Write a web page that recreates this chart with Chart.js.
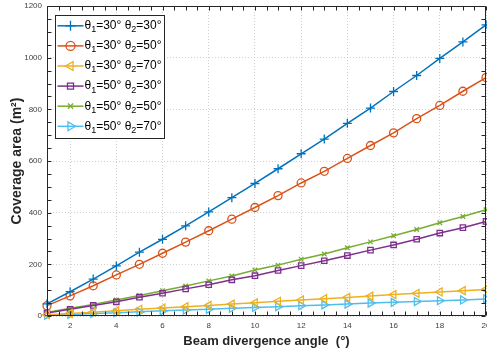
<!DOCTYPE html>
<html>
<head>
<meta charset="utf-8">
<script src="https://cdn.jsdelivr.net/npm/chart.js@4/dist/chart.umd.min.js"></script>
<style>
html,body{margin:0;padding:0;background:#fff;}
#wrap{width:487px;height:354px;position:relative;}
</style>
</head>
<body>
<div id="wrap"><canvas id="c" width="487" height="354"></canvas></div>
<script>
// ---- data ----
const angles = [1,2,3,4,5,6,7,8,9,10,11,12,13,14,15,16,17,18,19,20];
const s30_30 = [47,94,143,194,247,297,349,403,458,513,570,628,685,746,805,869,931,997,1061,1127];
const s30_50 = [40,78,117,159,200,243,286,330,375,420,466,515,560,610,660,709,764,815,870,923];
const s30_70 = [5,10,15,20,26,31,36,41,46,51,57,62,67,72,77,83,88,93,98,103];
const s50_30 = [12,26,41,55,73,88,105,121,140,156,176,195,214,234,255,275,297,321,342,366];
const s50_50 = [14,30,45,62,79,98,116,136,155,178,197,220,240,264,287,311,335,361,385,411];
const s50_70 = [3,6,10,13,16,20,23,26,30,33,36,40,43,46,50,53,56,59,62,66];
const seriesLabels = ['θ₁=30° θ₂=30°','θ₁=30° θ₂=50°','θ₁=30° θ₂=70°','θ₁=50° θ₂=30°','θ₁=50° θ₂=50°','θ₁=50° θ₂=70°'];
const xTickValues = [2,4,6,8,10,12,14,16,18,20];
const yTickValues = [0,200,400,600,800,1000,1200];
const xTitle = 'Beam divergence angle  (°)';
const yTitle = 'Coverage area (m²)';

const colors = ['#0072BD','#D95319','#EDB120','#7E2F8E','#77AC30','#4DBEEE'];
const styles = [
  {pointStyle:'cross', rotation:0, radius:4.5},
  {pointStyle:'circle', rotation:0, radius:4},
  {pointStyle:'triangle', rotation:-90, radius:4.6},
  {pointStyle:'rect', rotation:0, radius:3.8},
  {pointStyle:'crossRot', rotation:0, radius:3.2},
  {pointStyle:'triangle', rotation:90, radius:4.6}
];
const allSeries = [s30_30,s30_50,s30_70,s50_30,s50_50,s50_70];

const datasets = allSeries.map((s,i)=>({
  label: seriesLabels[i],
  data: s.map((v,k)=>({x:angles[k], y:v})),
  borderColor: colors[i],
  backgroundColor: 'rgba(0,0,0,0)',
  borderWidth: 1.5,
  pointStyle: styles[i].pointStyle,
  pointRotation: styles[i].rotation,
  pointRadius: styles[i].radius,
  pointBorderWidth: 1.3,
  pointBorderColor: colors[i],
  pointBackgroundColor: 'rgba(0,0,0,0)',
  tension: 0,
  clip: false
}));

const axisColor = '#262626';

const framePlugin = {
  id: 'frame',
  afterDatasetsDraw(chart){
    const {ctx, chartArea:a, scales:{x,y}} = chart;
    ctx.save();
    ctx.strokeStyle = axisColor;
    ctx.lineWidth = 1;
    const L = Math.round(a.left)+0.5, R = Math.round(a.right)-0.5, T = Math.round(a.top)+0.5, B = Math.round(a.bottom)-0.5;
    ctx.beginPath();
    ctx.rect(L, T, R-L, B-T);
    ctx.stroke();
    const tl = 4;
    ctx.beginPath();
    for (let v = x.min; v <= x.max + 1e-9; v += 0.5){
      const px = Math.round(x.getPixelForValue(v))+0.5;
      ctx.moveTo(px, B); ctx.lineTo(px, B - tl);
      ctx.moveTo(px, T); ctx.lineTo(px, T + tl);
    }
    for (let v = y.min; v <= y.max + 1e-9; v += 50){
      const py = Math.round(y.getPixelForValue(v))+0.5;
      ctx.moveTo(L, py); ctx.lineTo(L + tl, py);
      ctx.moveTo(R, py); ctx.lineTo(R - tl, py);
    }
    ctx.stroke();
    ctx.restore();
  }
};

function drawRich(ctx, text, x, y){
  const subMap = {'₁':'1','₂':'2'};
  let cx = x;
  for (const ch of text){
    if (subMap[ch]){
      ctx.font = '9px "Liberation Sans", Arial, sans-serif';
      ctx.fillText(subMap[ch], cx, y + 4);
      cx += ctx.measureText(subMap[ch]).width;
    } else {
      ctx.font = '12px "Liberation Sans", Arial, sans-serif';
      ctx.fillText(ch, cx, y);
      cx += ctx.measureText(ch).width;
    }
  }
}

const legendPlugin = {
  id: 'boxLegend',
  afterDraw(chart){
    const {ctx, chartArea:a} = chart;
    const bx = Math.round(a.left + 8)+0.5, by = Math.round(a.top + 8.5)+0.5;
    const bw = 109, bh = 123;
    ctx.save();
    ctx.fillStyle = '#ffffff';
    ctx.fillRect(bx, by, bw, bh);
    ctx.strokeStyle = axisColor;
    ctx.lineWidth = 1;
    ctx.strokeRect(bx, by, bw, bh);
    chart.data.datasets.forEach((ds,i)=>{
      const ry = by + 10.3 + i*20.1;
      ctx.strokeStyle = ds.borderColor;
      ctx.lineWidth = 1.5;
      ctx.beginPath();
      ctx.moveTo(bx + 2, ry); ctx.lineTo(bx + 28, ry);
      ctx.stroke();
      ctx.lineWidth = 1.3;
      ctx.fillStyle = 'rgba(0,0,0,0)';
      Chart.helpers.drawPoint(ctx, {pointStyle: ds.pointStyle, rotation: ds.pointRotation, radius: ds.pointRadius + 0.5, borderWidth: 1.3}, bx + 15, ry);
      ctx.fillStyle = '#000000';
      ctx.textBaseline = 'middle';
      ctx.textAlign = 'left';
      drawRich(ctx, ds.label, bx + 29, ry);
    });
    ctx.restore();
  }
};

new Chart(document.getElementById('c'), {
  type: 'line',
  data: { datasets },
  options: {
    responsive: false,
    animation: false,
    events: [],
    layout: { padding: {top: 6, right: 1, left: 0, bottom: 0}, autoPadding: false },
    plugins: { legend: {display:false}, tooltip: {enabled:false} },
    scales: {
      x: {
        type: 'linear', min: 1, max: 20,
        afterBuildTicks(s){ s.ticks = xTickValues.map(v=>({value:v})); },
        afterFit(s){ s.height = 38; s.paddingLeft = 0; s.paddingRight = 0; },
        grid: { color: '#c4c4c4', lineWidth: 0.8, drawTicks: false },
        border: { display: false, dash: [1,2] },
        ticks: { padding: 5, color: '#404040', font: {size: 8, family: '"Liberation Sans", Arial, sans-serif'}, maxRotation: 0, autoSkip: false,
          callback: (v) => String(v) },
        title: { display: true, text: xTitle, color: axisColor, padding: {top: 0, bottom: 5},
          font: {size: 13, weight: 'bold', family: '"Liberation Sans", Arial, sans-serif'} }
      },
      y: {
        type: 'linear', min: 0, max: 1200,
        afterBuildTicks(s){ s.ticks = yTickValues.map(v=>({value:v})); },
        afterFit(s){ s.width = 47; s.paddingTop = 0; s.paddingBottom = 0; },
        grid: { color: '#c4c4c4', lineWidth: 0.8, drawTicks: false },
        border: { display: false, dash: [1,2] },
        ticks: { padding: 5, color: '#404040', font: {size: 8, family: '"Liberation Sans", Arial, sans-serif'},
          callback: (v) => String(v) },
        title: { display: true, text: yTitle, color: axisColor, padding: {top: 9, bottom: 0},
          font: {size: 14, weight: 'bold', family: '"Liberation Sans", Arial, sans-serif'} }
      }
    }
  },
  plugins: [framePlugin, legendPlugin]
});
</script>
</body>
</html>
